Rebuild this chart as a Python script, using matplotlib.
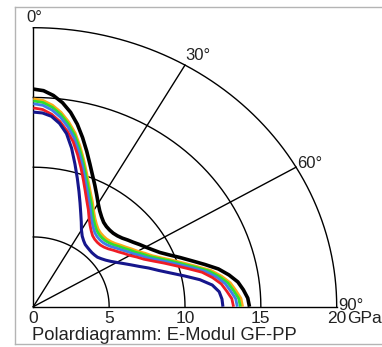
import numpy as np
import matplotlib.pyplot as plt
from matplotlib.lines import Line2D

plt.rcParams['font.family'] = ['Liberation Sans', 'DejaVu Sans']

# angle from the 0deg axis (top) towards 90deg (right), in degrees
angles = [0, 2.5, 5, 7.5, 10, 12.5, 15, 17.5, 20, 22.5, 25, 27.5, 30, 32.5, 35, 37.5, 40, 42.5, 45,
          47.5, 50, 52.5, 55, 57.5, 60, 62.5, 65, 67.5, 70, 72.5, 75, 77.5, 80, 82.5, 85, 87.5, 90]

# E-Modul in GPa
r_black = [15.6, 15.5, 15.2, 14.75, 14.15, 13.4, 12.55, 11.7, 10.9, 10.2, 9.6, 9.05, 8.55, 8.15, 7.85,
           7.62, 7.5, 7.45, 7.45, 7.52, 7.65, 7.85, 8.05, 8.3, 8.55, 8.85, 9.2, 9.7, 10.3, 10.95, 11.7,
           12.5, 13.1, 13.6, 13.9, 14.15, 14.25]
r_orange = [14.9, 14.8, 14.5, 14.05, 13.45, 12.75, 11.9, 11.05, 10.25, 9.55, 8.95, 8.45, 7.95, 7.55, 7.25,
            7.02, 6.9, 6.85, 6.85, 6.92, 7.05, 7.25, 7.45, 7.7, 7.95, 8.3, 8.65, 9.15, 9.75, 10.4, 11.15,
            12.0, 12.6, 13.1, 13.4, 13.7, 13.8]
r_green = [14.75, 14.65, 14.35, 13.9, 13.3, 12.6, 11.75, 10.9, 10.1, 9.4, 8.8, 8.3, 7.8, 7.4, 7.1,
           6.87, 6.75, 6.7, 6.7, 6.77, 6.9, 7.1, 7.3, 7.55, 7.8, 8.15, 8.5, 9.0, 9.6, 10.25, 11.0,
           11.85, 12.45, 12.95, 13.25, 13.55, 13.65]
r_blue = [14.55, 14.45, 14.15, 13.7, 13.1, 12.4, 11.55, 10.7, 9.9, 9.2, 8.6, 8.1, 7.6, 7.2, 6.9,
          6.67, 6.55, 6.5, 6.5, 6.57, 6.7, 6.9, 7.1, 7.35, 7.6, 7.95, 8.3, 8.8, 9.4, 10.05, 10.8,
          11.65, 12.25, 12.75, 13.05, 13.35, 13.45]
r_red = [14.25, 14.15, 13.85, 13.4, 12.8, 12.12, 11.28, 10.44, 9.65, 8.95, 8.35, 7.85, 7.35, 6.95, 6.65,
         6.42, 6.3, 6.25, 6.25, 6.32, 6.45, 6.65, 6.85, 7.1, 7.35, 7.7, 8.05, 8.55, 9.15, 9.8, 10.55,
         11.4, 12.0, 12.5, 12.8, 13.1, 13.2]
r_navy = [13.95, 13.9, 13.7, 13.25, 12.6, 11.65, 10.6, 9.65, 8.8, 8.05, 7.4, 6.85, 6.35, 6.0, 5.78,
          5.62, 5.55, 5.5, 5.47, 5.48, 5.52, 5.65, 5.82, 6.05, 6.35, 6.7, 7.1, 7.55, 8.1, 8.65, 9.35,
          10.2, 11.15, 11.9, 12.3, 12.45, 12.5]

rings = [5, 10, 15, 20]
spokes = [30, 60]
tick_labels = ['0', '5', '10', '15', '20']
angle_labels = ['0°', '30°', '60°', '90°']


def to_xy(theta_deg, r):
    t = np.radians(np.asarray(theta_deg, dtype=float))
    r = np.asarray(r, dtype=float)
    return r * np.sin(t), r * np.cos(t)


fig = plt.figure(figsize=(3.82, 3.47), dpi=100)
fig.patch.set_facecolor('white')

# grey frame of the original picture
frame_kw = dict(color='#b4b4b4', lw=1.0, transform=fig.transFigure)
fig.add_artist(Line2D([15 / 382, 1.01], [1 - 7 / 347, 1 - 7 / 347], **frame_kw))
fig.add_artist(Line2D([15 / 382, 15 / 382], [1 - 7 / 347, 1 - 344 / 347], **frame_kw))
fig.add_artist(Line2D([15 / 382, 1.01], [1 - 344 / 347, 1 - 344 / 347], **frame_kw))

ax = fig.add_axes([33.3 / 382, 40.3 / 347, 303.4 / 382, 279 / 347])
ax.set_xlim(0, 20)
ax.set_ylim(0, 20)
ax.axis('off')

grid_kw = dict(color='black', lw=1.0, clip_on=False, zorder=1)
arc = np.linspace(0, 90, 181)
for r in rings:
    x, y = to_xy(arc, np.full_like(arc, r))
    ax.plot(x, y, **grid_kw)
for a in [0] + spokes + [90]:
    x, y = to_xy([a, a], [0, rings[-1]])
    ax.plot(x, y, **grid_kw)

curves = [
    (r_black, 'black', 2.6),
    (r_orange, '#fba919', 2.0),
    (r_green, '#2ee02e', 2.0),
    (r_blue, '#3f80e6', 2.0),
    (r_red, '#ee1c25', 2.0),
    (r_navy, '#16168c', 2.2),
]
for i, (vals, col, lw) in enumerate(curves):
    x, y = to_xy(angles, vals)
    ax.plot(x, y, color=col, lw=lw, solid_joinstyle='round', solid_capstyle='butt',
            clip_on=False, zorder=3 + i)

fs = 12
# angle labels
ax.text(0.08, 20.4, angle_labels[0], ha='center', va='baseline', fontsize=fs, color='#222222')
x30, y30 = to_xy(30, 20)
ax.text(x30, y30 + 0.35, angle_labels[1], ha='left', va='baseline', fontsize=fs, color='#222222')
x60, y60 = to_xy(60, 20)
ax.text(x60 + 0.1, y60 - 0.05, angle_labels[2], ha='left', va='baseline', fontsize=fs, color='#222222')
ax.text(20.07, -0.24, angle_labels[3], ha='left', va='baseline', fontsize=fs, color='#222222')

# radial tick labels along the 90deg axis
for r, lab in zip([0] + rings, tick_labels):
    ax.text(r, -1.17, lab, ha='center', va='baseline', fontsize=12.5, color='#222222')
ax.text(20.68, -1.17, 'GPa', ha='left', va='baseline', fontsize=12.5, color='#222222')

ax.text(-0.09, -2.39, 'Polardiagramm: E-Modul GF-PP', ha='left', va='baseline',
        fontsize=13.2, color='#222222')

fig.savefig('out.png', dpi=100, facecolor='white')
